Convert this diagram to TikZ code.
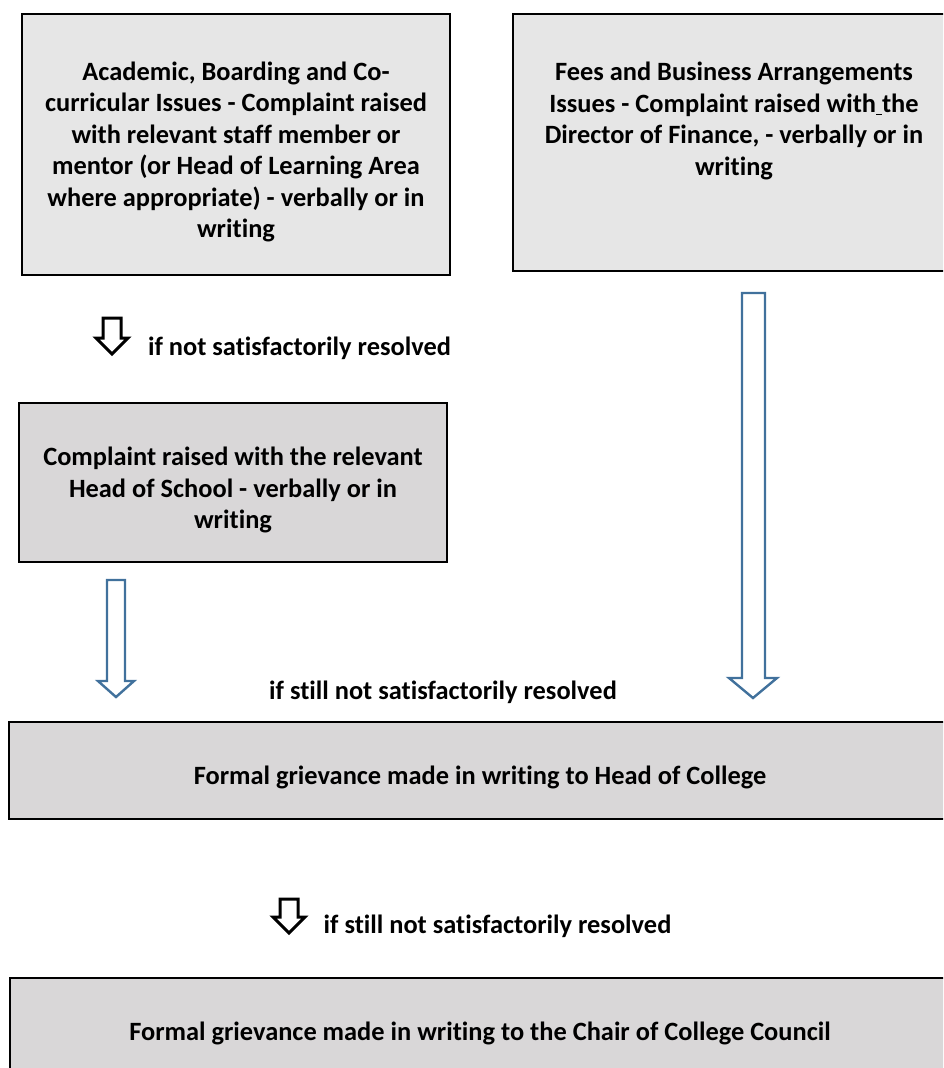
\documentclass[tikz,border=0pt]{standalone}
\usepackage{fontspec}
\setmainfont{Carlito}[Ligatures={NoCommon}]
\begin{document}
\begin{tikzpicture}[x=1pt,y=-1pt,
  box/.style={draw=black,line width=1.3pt},
  txt/.style={font=\bfseries\fontsize{26.4}{31.4}\selectfont,align=center,inner sep=0pt},
  lbl/.style={font=\bfseries\fontsize{26.4}{30}\selectfont,inner sep=0pt},
  blue arrow/.style={draw=arrowblue,line width=2.4pt,fill=white,line join=miter},
  black arrow/.style={draw=black,line width=3pt,fill=white,line join=miter}]
\definecolor{arrowblue}{HTML}{41719C}
\definecolor{lightbox}{HTML}{E6E6E6}
\definecolor{darkbox}{HTML}{D9D7D8}
\useasboundingbox (0,0) rectangle (943,1068);
\clip (0,0) rectangle (943,1068);
% boxes
\filldraw[box,fill=lightbox] (22,14) rectangle (450,275);
\filldraw[box,fill=lightbox] (513,14) rectangle (955,271);
\filldraw[box,fill=darkbox] (19,403) rectangle (447,562);
\filldraw[box,fill=darkbox] (9,722) rectangle (951,819);
\filldraw[box,fill=darkbox] (10,978) rectangle (950,1080);
% texts
\node[txt] (a) at (236,152) {Academic, Boarding and Co-\\curricular Issues - Complaint raised\\with relevant staff member or\\mentor (or Head of Learning Area\\where appropriate) - verbally or in\\writing};
\node[txt] (b) at (734,121) {Fees and Business Arrangements\\Issues - Complaint raised with\underline{ }the\\Director of Finance, - verbally or in\\writing};
\node[txt] (c) at (233,490) {Complaint raised with the relevant\\Head of School - verbally or in\\writing};
\node[txt] (d) at (480,777) {Formal grievance made in writing to Head of College};
\node[txt] (e) at (480,1033) {Formal grievance made in writing to the Chair of College Council};
% labels
\node[lbl] (l1) at (299.5,348) {if not satisfactorily resolved};
\node[lbl] (l2) at (443,692) {if still not satisfactorily resolved};
\node[lbl] (l3) at (497.5,926) {if still not satisfactorily resolved};
% black arrows
\draw[black arrow] (103,318) -- (121,318) -- (121,338) -- (128,338) -- (112,354) -- (96,338) -- (103,338) -- cycle;
\draw[black arrow] (280,899) -- (298,899) -- (298,917) -- (305,917) -- (289,933) -- (273,917) -- (280,917) -- cycle;
% blue arrows
\draw[blue arrow] (107,580) -- (125,580) -- (125,681) -- (134,681) -- (116,697) -- (98,681) -- (107,681) -- cycle;
\draw[blue arrow] (742,293) -- (765,293) -- (765,678) -- (777,678) -- (753,698) -- (729,678) -- (742,678) -- cycle;
\end{tikzpicture}
\end{document}
